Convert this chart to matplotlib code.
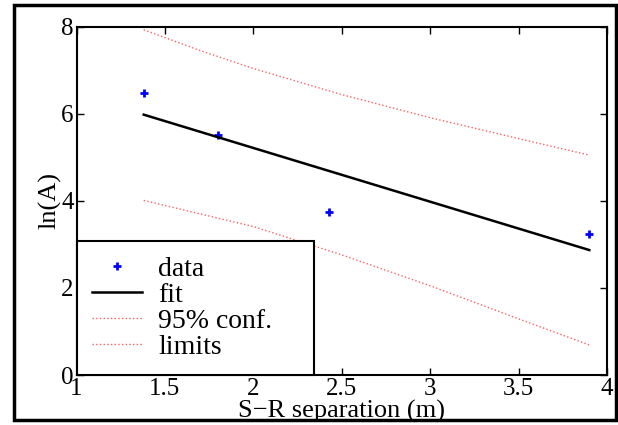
import numpy as np
import matplotlib
matplotlib.use("Agg")
import matplotlib.pyplot as plt
from matplotlib.patches import Rectangle

plt.rcParams['font.family'] = ['Liberation Serif', 'DejaVu Serif']

sep_data = [1.38, 1.80, 2.43, 3.90]
lnA_data = [6.47, 5.52, 3.75, 3.25]

# fitted line end points
fit_x = [1.38, 3.90]
fit_y = [5.98, 2.87]

# 95% confidence limits
band_x = [1.38, 1.7, 2.0, 2.5, 3.0, 3.5, 3.90]
band_upper = [7.93, 7.45, 7.04, 6.44, 5.91, 5.43, 5.05]
band_lower = [4.01, 3.70, 3.41, 2.76, 2.05, 1.29, 0.69]

fig = plt.figure(figsize=(6.18, 4.25), dpi=100)
ax = fig.add_axes([0.1238, 0.1176, 0.8584, 0.8196])

ax.plot(sep_data, lnA_data, '+', color='#0000ff', markersize=6, markeredgewidth=2, label='data')
ax.plot(fit_x, fit_y, '-', color='black', lw=1.8, label='fit')
ax.plot(band_x, band_upper, ':', color='#ff6060', lw=1.0, label='95% conf.')
ax.plot(band_x, band_lower, ':', color='#ff6060', lw=1.0, label='limits')

ax.set_xlim(1, 4)
ax.set_ylim(0, 8)
ax.set_xticks([1, 1.5, 2, 2.5, 3, 3.5, 4])
ax.set_xticklabels(['1', '1.5', '2', '2.5', '3', '3.5', '4'])
ax.set_yticks([0, 2, 4, 6, 8])
ax.tick_params(direction='in', top=True, right=True, labelsize=18, length=5, width=1)
ax.tick_params(axis='x', pad=2)
ax.tick_params(axis='y', pad=2)
for s in ax.spines.values():
    s.set_linewidth(1.5)

ax.set_xlabel('S\u2212R separation (m)', fontsize=19, labelpad=0)
ax.set_ylabel('ln(A)', fontsize=19, labelpad=0)

leg = ax.legend(loc='lower left', bbox_to_anchor=(0, 0, 0.447, 1), mode='expand',
                borderaxespad=0, fontsize=20, fancybox=False,
                framealpha=1, edgecolor='black', handlelength=1.8, handletextpad=0.6,
                borderpad=0.55, labelspacing=0.02)
leg.get_frame().set_linewidth(1.5)

# outer frame around the figure
fig.patches.append(Rectangle((14 / 618, 5 / 425), 602 / 618, 415 / 425, transform=fig.transFigure,
                             fill=False, edgecolor='black', lw=2.5))

fig.savefig('out.png', dpi=100)
